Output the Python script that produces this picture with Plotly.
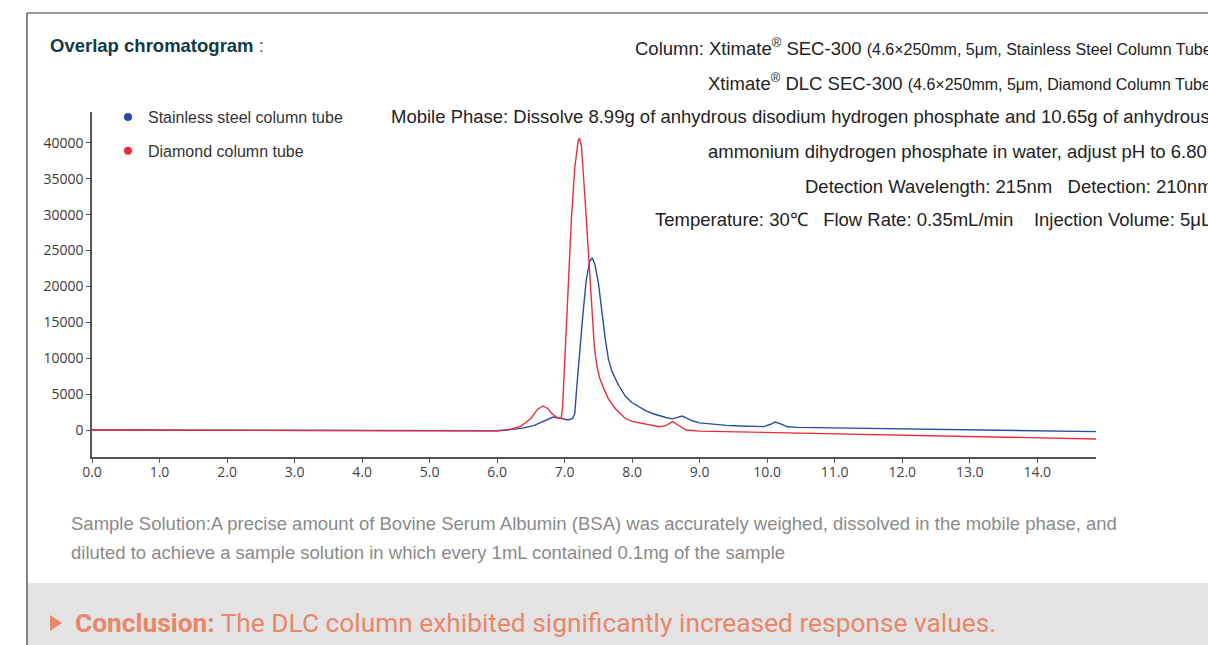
import plotly.graph_objects as go

W, H = 1208, 645

# ---------------- data ----------------
steel_time = [0, 1, 2, 3, 4, 5, 6.0, 6.2, 6.4, 6.55, 6.7, 6.83, 6.95, 7.05, 7.12, 7.15,
              7.18, 7.22, 7.27, 7.32, 7.37, 7.41, 7.45, 7.5, 7.55, 7.6, 7.65, 7.7, 7.8,
              7.9, 8.0, 8.1, 8.2, 8.3, 8.4, 8.5, 8.6, 8.67, 8.74, 8.8, 8.9, 9.0, 9.2,
              9.4, 9.6, 9.8, 9.95, 10.05, 10.12, 10.2, 10.3, 10.45, 11, 12, 13, 14, 14.87]
steel_signal = [0, -20, -40, -60, -80, -100, -100, 50, 300, 650, 1300, 1800, 1600, 1400,
                1600, 2300, 6000, 10700, 16000, 20900, 23500, 24000, 23000, 20500, 16500,
                12800, 9800, 8200, 6200, 4700, 3800, 3200, 2700, 2300, 2000, 1750, 1550,
                1700, 1950, 1700, 1250, 1000, 780, 650, 560, 500, 470, 800, 1100, 850,
                450, 360, 300, 180, 50, -100, -230]

diamond_time = [0, 1, 2, 3, 4, 5, 6.0, 6.2, 6.35, 6.5, 6.6, 6.68, 6.75, 6.82, 6.9, 6.95,
                6.97, 7.0, 7.05, 7.1, 7.15, 7.2, 7.22, 7.25, 7.3, 7.35, 7.4, 7.44, 7.48,
                7.52, 7.57, 7.65, 7.75, 7.82, 7.9, 8.0, 8.2, 8.4, 8.5, 8.6, 8.68, 8.8,
                9.0, 9.5, 10.0, 10.78, 12, 13, 14, 14.87]
diamond_signal = [0, -20, -40, -60, -80, -100, -120, 100, 500, 1600, 2900, 3350, 3000,
                  2200, 1700, 1650, 3250, 9250, 19250, 29270, 36500, 40300, 40650, 39500,
                  32500, 25000, 17500, 11600, 8800, 7200, 6000, 4300, 3000, 2300, 1600,
                  1200, 800, 460, 600, 1160, 700, 0, -150, -250, -350, -460, -700, -900,
                  -1100, -1250]

series_names = ["Stainless steel column tube", "Diamond column tube"]
series_colors = ["#2a4ca6", "#ee2b3b"]

x_ticks = [0, 1, 2, 3, 4, 5, 6, 7, 8, 9, 10, 11, 12, 13, 14]
y_ticks = [0, 5000, 10000, 15000, 20000, 25000, 30000, 35000, 40000]


def px(x):
    return x / W


def py(y):
    return 1 - y / H


fig = go.Figure()
for t, s, name, c in [(steel_time, steel_signal, series_names[0], series_colors[0]),
                      (diamond_time, diamond_signal, series_names[1], series_colors[1])]:
    fig.add_trace(go.Scatter(x=t, y=s, mode="lines", line=dict(color=c, width=1.4),
                             showlegend=False, hoverinfo="x+y", name=name))
# legend entries as dots
for i, (name, c) in enumerate(zip(series_names, series_colors)):
    fig.add_trace(go.Scatter(x=[None], y=[None], mode="markers", name=name,
                             legendgroup="g%d" % i,
                             marker=dict(color=c, size=8)))

TXT = "Liberation Sans, Arial, sans-serif"
TICKF = "Open Sans, Noto Sans, sans-serif"

fig.update_layout(
    width=W, height=H,
    margin=dict(l=0, r=0, t=0, b=0, autoexpand=False),
    paper_bgcolor="white", plot_bgcolor="white",
    xaxis=dict(domain=[px(92), px(1096)], range=[0, 14.87], automargin=False,
               tickvals=x_ticks, ticktext=["%.1f" % v for v in x_ticks],
               showline=True, linecolor="#555", linewidth=1.5, mirror=False,
               ticks="outside", ticklen=4, tickcolor="#555", showgrid=False, zeroline=False,
               ticklabelstandoff=-3,
               tickfont=dict(family=TICKF, size=14, color="#444")),
    yaxis=dict(domain=[py(457), py(112)], range=[-3760, 44300], automargin=False,
               tickvals=y_ticks, ticktext=[str(v) for v in y_ticks],
               showline=True, linecolor="#555", linewidth=1.5,
               ticks="outside", ticklen=4, tickcolor="#555", showgrid=False, zeroline=False,
               tickfont=dict(family=TICKF, size=14, color="#3a3a3a")),
    legend=dict(x=px(108), y=py(100), xanchor="left", yanchor="top",
                font=dict(family=TXT, size=16, color="#333"), bgcolor="rgba(0,0,0,0)",
                tracegroupgap=10, itemwidth=30),
    showlegend=True,
)

shapes = [
    dict(type="line", xref="paper", yref="paper", x0=px(27), x1=1.0, y0=py(13), y1=py(13),
         line=dict(color="#333", width=1.2)),
    dict(type="line", xref="paper", yref="paper", x0=px(27), x1=px(27), y0=py(13), y1=0,
         line=dict(color="#333", width=1.2)),
    dict(type="rect", xref="paper", yref="paper", x0=px(28), x1=1.0, y0=py(583), y1=0,
         fillcolor="#e3e3e3", line=dict(width=0), layer="below"),
    dict(type="path", xref="paper", yref="paper",
         path="M %f,%f L %f,%f L %f,%f Z" % (px(50), py(615), px(62), py(623), px(50), py(631)),
         fillcolor="#e8876a", line=dict(width=0)),
]
fig.update_layout(shapes=shapes)

ann = []


def add_text(x, y, text, size, color="#222", family=TXT, anchor="left"):
    ann.append(dict(xref="paper", yref="paper", x=px(x), y=py(y), text=text,
                    showarrow=False, xanchor=anchor, yanchor="middle",
                    font=dict(family=family, size=size, color=color)))


add_text(48, 46, "<b>Overlap chromatogram</b><span style='color:#555'> :</span>",
         18.5, color="#123b47")
small = "font-size:16px"
add_text(633, 47, "Column: Xtimate<sup>®</sup> SEC-300 <span style='%s'>(4.6×250mm, 5μm, Stainless Steel Column Tube)</span>" % small, 18.5)
add_text(706, 82, "Xtimate<sup>®</sup> DLC SEC-300 <span style='%s'>(4.6×250mm, 5μm, Diamond Column Tube)</span>" % small, 18.5)
add_text(389, 116, "Mobile Phase: Dissolve 8.99g of anhydrous disodium hydrogen phosphate and 10.65g of anhydrous", 18.5)
add_text(706, 151, "ammonium dihydrogen phosphate in water, adjust pH to 6.80", 18.5)
add_text(803, 186, "Detection Wavelength: 215nm&nbsp;&nbsp;&nbsp;Detection: 210nm", 18.5)
add_text(653, 220, "Temperature: 30℃&nbsp;&nbsp;&nbsp;Flow Rate: 0.35mL/min&nbsp;&nbsp;&nbsp;&nbsp;Injection Volume: 5μL", 18.5)

add_text(69, 523, "Sample Solution:A precise amount of Bovine Serum Albumin (BSA) was accurately weighed, dissolved in the mobile phase, and",
         18.5, color="#8a8a8a")
add_text(69, 552, "diluted to achieve a sample solution in which every 1mL contained 0.1mg of the sample",
         18.5, color="#8a8a8a")
add_text(73, 623, "<b>Conclusion:</b> The DLC column exhibited significantly increased response values.",
         26.3, color="#e8876a", family="Roboto, sans-serif")

fig.update_layout(annotations=ann)

fig.write_html("out.html", config={"displayModeBar": False},
               post_script="document.body.style.margin='0';document.body.style.overflow='hidden';")
